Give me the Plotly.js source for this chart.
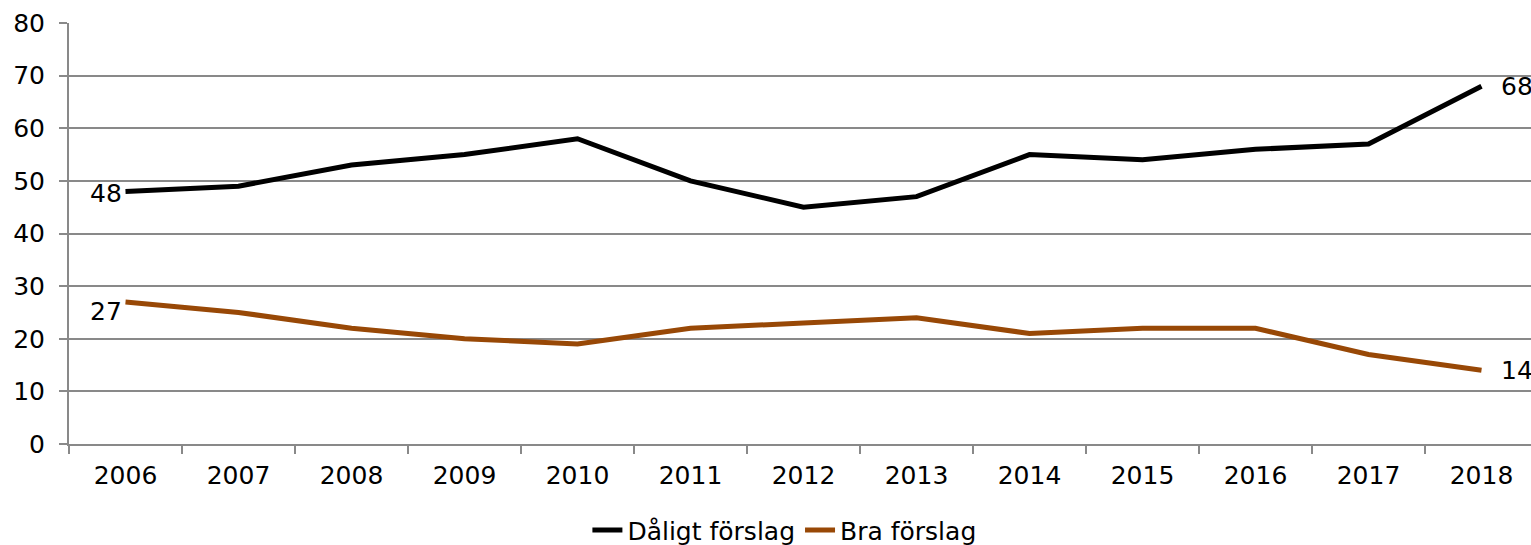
<!DOCTYPE html>
<html>
<head>
<meta charset="utf-8">
<script src="https://cdn.plot.ly/plotly-3.0.1.min.js"></script>
<style>html,body{margin:0;padding:0;overflow:hidden;background:#fff}#chart{width:1540px;height:545px}</style>
</head>
<body>
<div id="chart"></div>
<script>
const years = ["2006","2007","2008","2009","2010","2011","2012","2013","2014","2015","2016","2017","2018"];
const daligt = [48,49,53,55,58,50,45,47,55,54,56,57,68];
const bra = [27,25,22,20,19,22,23,24,21,22,22,17,14];
const yTicks = [0,10,20,30,40,50,60,70,80];

const FONT = "DejaVu Sans, Verdana, sans-serif";
const FS = 25;
const last = years.length - 1;

const traces = [
  {x: years, y: daligt, type: "scatter", mode: "lines", name: "Dåligt förslag",
   line: {color: "#000000", width: 5}},
  {x: years, y: bra, type: "scatter", mode: "lines", name: "Bra förslag",
   line: {color: "#984806", width: 5}}
];

const annotations = [
  {x: 0, y: daligt[0], text: String(daligt[0]), xanchor: "right", yanchor: "middle", xshift: -2, yshift: -2},
  {x: 0, y: bra[0], text: String(bra[0]), xanchor: "right", yanchor: "middle", xshift: -2, yshift: -10},
  {x: last, y: daligt[last], text: String(daligt[last]), xanchor: "left", yanchor: "middle", xshift: 17, yshift: 0},
  {x: last, y: bra[last], text: String(bra[last]), xanchor: "left", yanchor: "middle", xshift: 17, yshift: 0}
].map(a => Object.assign(a, {xref: "x", yref: "y", showarrow: false, font: {family: FONT, size: FS, color: "#000000"}}));

const layout = {
  width: 1540, height: 545, autosize: false,
  margin: {l: 69, r: 2, t: 23, b: 101, pad: 0, autoexpand: false},
  paper_bgcolor: "#ffffff", plot_bgcolor: "#ffffff",
  font: {family: FONT, size: FS, color: "#000000"},
  showlegend: true,
  legend: {orientation: "h", x: 0.487, xanchor: "center", y: -0.205, yanchor: "middle",
           font: {family: FONT, size: FS, color: "#000000"}, tracegroupgap: 0},
  xaxis: {type: "category", range: [-0.5, 12.5], showgrid: false, zeroline: false,
          showline: true, linecolor: "#898989", linewidth: 2,
          ticks: "outside", tickson: "boundaries", ticklen: 8, tickcolor: "#898989", tickwidth: 2,
          ticklabelstandoff: 8,
          tickfont: {family: FONT, size: FS, color: "#000000"}},
  yaxis: {range: [0, 80], tickvals: yTicks, ticktext: yTicks.map(String),
          showgrid: true, gridcolor: "#898989", gridwidth: 2, zeroline: false,
          showline: true, linecolor: "#898989", linewidth: 2,
          ticks: "outside", ticklen: 8, tickcolor: "#898989", tickwidth: 2,
          ticklabelstandoff: 9,
          tickfont: {family: FONT, size: FS, color: "#000000"}},
  annotations: annotations
};

Plotly.newPlot("chart", traces, layout, {displayModeBar: false, staticPlot: true});
</script>
</body>
</html>
